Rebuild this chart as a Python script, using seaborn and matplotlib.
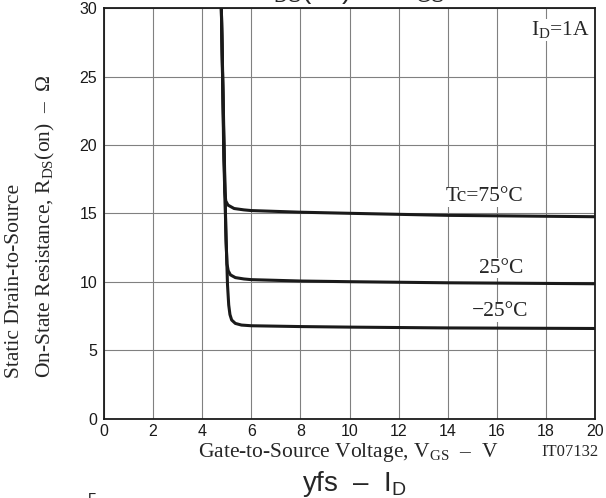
import matplotlib
matplotlib.use("Agg")
import matplotlib.pyplot as plt
import numpy as np
import pandas as pd
import seaborn as sns

# --- data ---
vgs_75 = [4.78, 4.84, 4.88, 4.92, 4.96, 5.05, 5.3, 5.7, 6.0, 8.0, 10.0, 14.0, 20.0]
rds_75 = [30.0, 24.0, 19.0, 16.6, 15.9, 15.6, 15.35, 15.25, 15.2, 15.08, 15.0, 14.85, 14.75]

vgs_25 = [4.78, 4.86, 4.92, 4.97, 5.01, 5.06, 5.15, 5.35, 5.7, 6.0, 8.0, 10.0, 14.0, 20.0]
rds_25 = [30.0, 22.0, 17.0, 13.0, 11.3, 10.8, 10.5, 10.3, 10.2, 10.15, 10.05, 10.0, 9.92, 9.85]

vgs_m25 = [4.78, 4.88, 4.96, 5.03, 5.08, 5.13, 5.2, 5.35, 5.6, 6.0, 8.0, 10.0, 14.0, 20.0]
rds_m25 = [30.0, 21.0, 14.0, 9.8, 8.3, 7.6, 7.2, 6.95, 6.83, 6.78, 6.72, 6.68, 6.62, 6.58]

curve_names = ["Tc=75°C", "25°C", "−25°C"]
label_xy = [(17.1, 16.2), (17.1, 11.0), (17.3, 7.8)]

x_ticks = list(range(0, 21, 2))
y_ticks = list(range(0, 31, 5))

frames = []
for name, xs, ys in zip(curve_names, [vgs_75, vgs_25, vgs_m25], [rds_75, rds_25, rds_m25]):
    frames.append(pd.DataFrame({"vgs": xs, "rds": ys, "curve": name}))
df = pd.concat(frames, ignore_index=True)

# --- styling ---
sns.set_theme(style="white")
plt.rcParams["font.family"] = ["Liberation Sans", "DejaVu Sans"]
plt.rcParams["mathtext.fontset"] = "custom"
plt.rcParams["mathtext.rm"] = "Liberation Serif"
plt.rcParams["mathtext.sf"] = "Liberation Sans"
serif = ["Liberation Serif", "DejaVu Serif"]
fs_serif = 15.5

fig = plt.figure(figsize=(6.06, 4.98), dpi=100)
ax = fig.add_axes([104 / 606, 1 - 418.5 / 498, 491 / 606, 410.4 / 498])

sns.lineplot(data=df, x="vgs", y="rds", hue="curve", palette=["#1a1a1a"] * 3,
             sort=False, estimator=None, linewidth=2.2, legend=False, ax=ax, zorder=3)

ax.set_xlim(0, 20)
ax.set_ylim(0, 30)
ax.set_xticks(x_ticks)
ax.set_yticks(y_ticks)
ax.grid(True, color="#808080", linewidth=0.8)
ax.tick_params(axis="both", length=0, labelsize=11.5, colors="#1a1a1a")
ax.tick_params(axis="x", pad=4)
ax.tick_params(axis="y", pad=5)
for s in ax.spines.values():
    s.set_color("#1a1a1a")
    s.set_linewidth(1.3)
ax.set_xlabel("")
ax.set_ylabel("")

# curve labels
for name, (lx, ly) in zip(curve_names, label_xy):
    ax.text(lx, ly, name, family=serif, fontsize=fs_serif, ha="right", va="center", zorder=4,
            bbox=dict(facecolor="white", edgecolor="none", pad=0.2))
ax.text(19.8, 28.4, r"I$_{\mathrm{D}}$=1A", family=serif, fontsize=fs_serif, ha="right", va="center",
        zorder=4, bbox=dict(facecolor="white", edgecolor="none", pad=0.2))

# axis titles
fig.text(198 / 606, 1 - 452 / 498, r"Gate-to-Source Voltage, V$_{\mathrm{GS}}$  –  V",
         family=serif, fontsize=fs_serif, ha="left", va="center")
fig.text(599 / 606, 1 - 452 / 498, "IT07132", family=serif, fontsize=12, ha="right", va="center")
fig.text(15 / 606, 1 - 378 / 498, "Static Drain-to-Source", family=serif, fontsize=fs_serif,
         rotation=90, ha="center", va="bottom")
fig.text(45 / 606, 1 - 378 / 498, r"On-State Resistance, R$_{\mathrm{DS}}$(on)  –  Ω", family=serif,
         fontsize=fs_serif, rotation=90, ha="center", va="bottom")

# neighbouring chart titles cut by the crop
fig.text(349 / 606, 1 - 6 / 498, r"R$_{\mathsf{DS}}$(on)  –  V$_{\mathsf{GS}}$", fontsize=20,
         ha="center", va="bottom")
fig.text(354 / 606, 1 - 484 / 498, r"yfs  –  I$_{\mathsf{D}}$", fontsize=20, ha="center", va="center")
fig.text(92 / 606, 1 - 493 / 498, "5", fontsize=11.5, ha="center", va="top")

fig.savefig("out.png", dpi=100)
